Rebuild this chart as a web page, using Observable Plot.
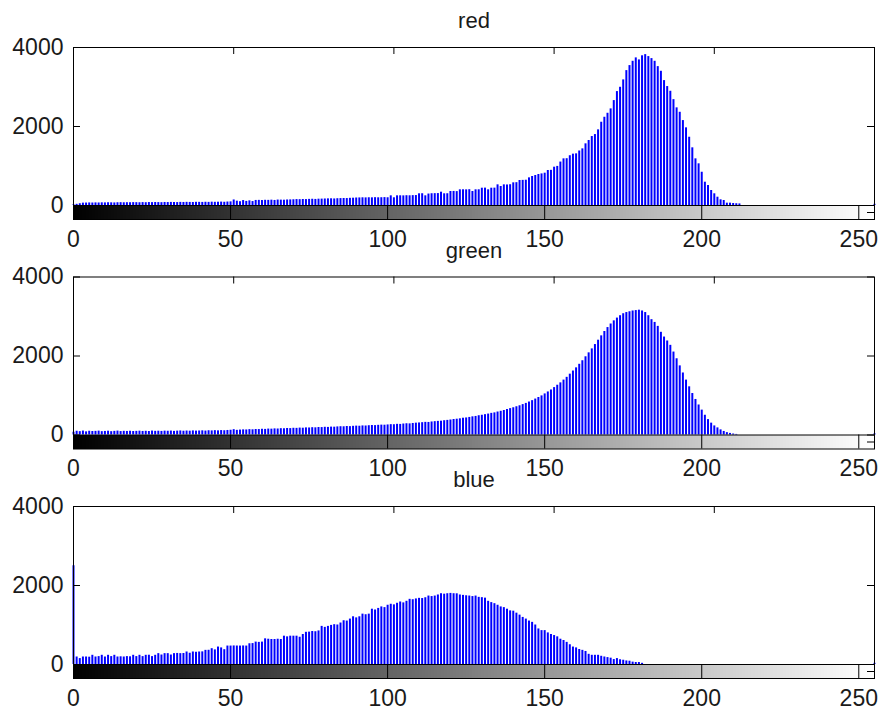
<!DOCTYPE html>
<html><head><meta charset="utf-8">
<script src="https://cdn.jsdelivr.net/npm/d3@7"></script>
<script src="https://cdn.jsdelivr.net/npm/@observablehq/plot@0.6"></script>
<style>body{margin:0;background:#fff} svg{display:block}</style>
</head><body><div id="chart"></div>
<script>
// ---- data ----
const channels = ["red", "green", "blue"];

const red = [
  20,30,45,60,62,65,63,66,64,68,
  66,70,68,65,70,72,69,71,70,73,
  72,70,74,71,75,73,76,74,72,77,
  75,78,76,74,79,77,80,78,76,81,
  80,78,82,79,84,81,83,86,82,88,
  92,140,110,96,125,104,118,100,128,130,
  126,132,130,135,128,138,136,134,140,142,
  145,150,148,152,150,155,158,154,160,162,
  165,168,170,166,172,175,178,176,182,185,
  190,192,195,193,196,194,198,195,197,200,
  196,245,195,245,246,244,248,246,250,252,
  296,298,245,290,298,300,302,337,296,298,
  354,356,352,397,398,396,400,354,397,398,
  438,440,397,438,440,523,481,523,520,526,
  574,578,633,636,640,700,734,759,785,800,
  818,886,890,970,990,1100,1181,1185,1260,1300,
  1308,1380,1434,1561,1645,1746,1796,1915,2108,2234,
  2335,2446,2656,2884,2993,3180,3415,3542,3651,3737,
  3686,3790,3820,3770,3719,3651,3516,3398,3162,3011,
  2892,2680,2472,2360,2150,1966,1728,1460,1181,1055,
  842,590,506,380,296,210,144,126,59,59,
  50,45,40,
  0,0,0,0,0,0,0,0,0,0,
  0,0,0,0,0,0,0,0,0,0,
  0,0,0,0,0,0,0,0,0,0,
  0,0,0,0,0,0,0,0,0,0,
  0,0,
  30
];

const green = [
  70,95,85,100,80,95,88,92,98,85,
  90,96,84,92,99,87,93,90,95,88,
  92,97,90,94,88,100,93,96,91,98,
  95,100,92,98,103,96,101,97,104,99,
  102,106,100,108,104,110,105,112,108,115,
  120,135,118,125,130,128,136,132,140,138,
  145,142,150,148,155,152,160,158,165,162,
  170,168,175,172,180,178,185,182,190,188,
  195,192,200,198,205,210,208,215,212,220,
  225,222,230,228,235,240,238,245,250,248,
  255,262,260,270,268,278,285,282,292,300,
  305,312,320,318,330,338,345,350,362,370,
  380,392,400,410,425,432,445,460,470,488,
  500,515,530,548,560,582,600,620,645,668,
  690,715,740,770,800,835,870,910,950,990,
  1040,1090,1140,1200,1260,1320,1390,1460,1540,1620,
  1700,1790,1880,1980,2080,2180,2290,2400,2510,2620,
  2720,2810,2890,2960,3020,3070,3100,3120,3140,3150,
  3160,3140,3100,3020,2920,2850,2750,2600,2480,2380,
  2270,2100,1930,1750,1570,1390,1220,1050,900,760,
  630,500,390,300,230,180,130,90,60,40,
  25,15,
  0,0,0,0,0,0,0,0,0,0,
  0,0,0,0,0,0,0,0,0,0,
  0,0,0,0,0,0,0,0,0,0,
  0,0,0,0,0,0,0,0,0,0,
  0,0,0,
  30
];

const blue = [
  2500,
  190,150,190,190,185,233,190,200,233,
  190,233,200,233,190,195,190,200,195,233,
  200,233,200,233,235,200,233,275,240,275,
  275,240,275,280,275,278,317,285,317,310,
  317,320,358,360,400,370,442,420,375,467,
  467,470,468,467,470,467,525,530,567,560,
  567,650,640,633,633,640,633,717,700,717,
  717,717,690,760,815,820,835,830,850,965,
  940,965,990,1008,1000,1050,1108,1100,1150,1208,
  1180,1208,1275,1260,1275,1400,1380,1420,1458,1440,
  1500,1525,1510,1550,1583,1560,1600,1650,1640,1660,
  1675,1670,1690,1733,1720,1733,1760,1792,1780,1792,
  1800,1792,1790,1760,1750,1740,1733,1720,1733,1700,
  1692,1680,1600,1567,1540,1500,1458,1440,1400,1358,
  1350,1300,1250,1192,1150,1100,1067,1000,900,858,
  858,800,760,733,700,640,608,560,500,442,
  420,380,358,330,258,233,233,233,208,190,
  175,160,125,150,120,108,90,83,60,50,
  50,30,
  0,0,0,0,0,0,0,0,0,0,
  0,0,0,0,0,0,0,0,0,0,
  0,0,0,0,0,0,0,0,0,0,
  0,0,0,0,0,0,0,0,0,0,
  0,0,0,0,0,0,0,0,0,0,
  0,0,0,0,0,0,0,0,0,0,
  0,0,0,0,0,0,0,0,0,0,
  0,0,0,
  30
];

const yTicks = [0, 2000, 4000];
const topTicks = [51, 102, 153, 204];
const cbTicks = [0, 50, 100, 150, 200, 250];
const grayLevels = d3.range(255);

// ---- layout ----
const W = 881, H = 715, mL = 73, mR = 7, mT = 47, mB = 37;
const frameW = W - mL - mR;
const panelH = 172, histH = 158, yMax = 4000;
const cb = yMax * (panelH - histH) / histH;
const rangeH = H - mT - mB;
const pad = (rangeH - channels.length * panelH) / (rangeH - panelH);

const series = {red, green, blue};
const rows = channels.flatMap(ch => series[ch].map((count, bin) => ({ch, bin, count})));

const chart = Plot.plot({
  width: W, height: H,
  marginLeft: mL, marginRight: mR, marginTop: mT, marginBottom: mB,
  style: {fontFamily: "'Liberation Sans', Arial, sans-serif", color: "#1a1a1a", background: "#fff", overflow: "visible"},
  x: {domain: [0, 255], axis: null},
  y: {domain: [-cb, yMax]},
  fy: {domain: channels, axis: null, paddingInner: pad, paddingOuter: 0, round: false},
  color: {type: "identity"},
  marks: [
    Plot.rect(grayLevels, {x1: d => d, x2: d => d + 1, y1: -cb, y2: 0,
      fill: d => d3.rgb(d * 255 / 254, d * 255 / 254, d * 255 / 254).formatHex(), shapeRendering: "crispEdges"}),
    Plot.ruleX(rows, {x: "bin", y1: 0, y2: "count", fy: "ch", stroke: "#0000ff", strokeWidth: 2}),
    Plot.ruleY([0], {stroke: "#000"}),
    Plot.ruleX(cbTicks, {x: d => d, y1: -cb, y2: 0, stroke: "#000"}),
    Plot.ruleX(topTicks, {x: d => d, insetBottom: panelH - 7, stroke: "#000"}),
    Plot.ruleY(yTicks, {y: d => d, insetRight: frameW - 7, stroke: "#000"}),
    Plot.ruleY(yTicks, {y: d => d, insetLeft: frameW - 7, stroke: "#000"}),
    Plot.ruleY([-cb / 2], {insetLeft: frameW - 7, stroke: "#000"}),
    Plot.frame({stroke: "#000"}),
    Plot.axisY({ticks: yTicks, tickSize: 0, tickPadding: 10, tickFormat: d => String(d), label: null, fontSize: 23}),
    Plot.text(cbTicks, {x: d => d, text: d => String(d), frameAnchor: "bottom", lineAnchor: "top", dy: 11, fontSize: 23}),
    Plot.text(channels, {fy: d => d, text: d => d, frameAnchor: "top", lineAnchor: "bottom", dy: -19.5, fontSize: 22})
  ]
});
document.getElementById("chart").append(chart);
</script>
</body></html>
